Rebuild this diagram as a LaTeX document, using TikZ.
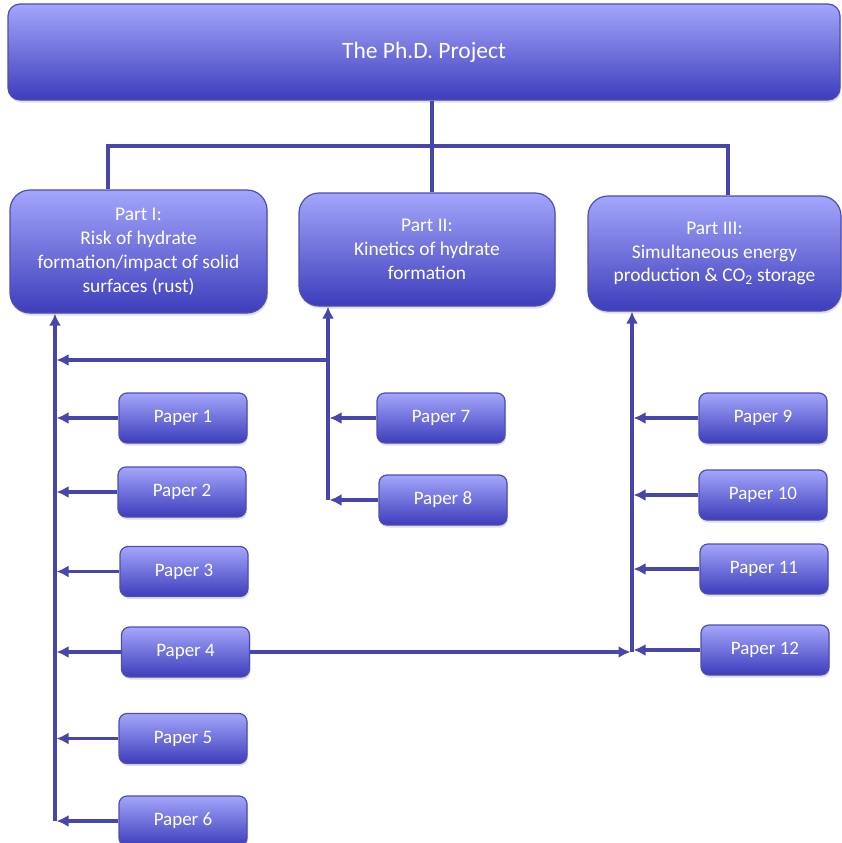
\documentclass[tikz,border=0pt]{standalone}
\usepackage{fontspec}
\setmainfont{Carlito}
\usetikzlibrary{arrows.meta,shadows,calc}
\definecolor{PhDTop}{HTML}{A3A6FB}
\definecolor{PhDBottom}{HTML}{3D3DBB}
\definecolor{PhDEdge}{HTML}{4E4EB2}
\definecolor{PhDLine}{HTML}{4747AB}
\tikzset{
    block/.style = {draw=PhDEdge, line width=1.2pt, rectangle,
        top color=PhDTop, bottom color=PhDBottom,
        text=white, align=center, inner sep=0pt,
        drop shadow={shadow xshift=1pt, shadow yshift=-2.5pt, opacity=0.25}},
    headbox/.style = {block, rounded corners=12pt, font=\fontsize{23.5}{28}\selectfont},
    partbox/.style = {block, rounded corners=20pt, font=\fontsize{19.4}{23.8}\selectfont},
    paperbox/.style = {block, rounded corners=8pt,
        minimum width=128pt, minimum height=50pt, font=\fontsize{19}{22}\selectfont},
    link/.style = {draw=PhDLine, line width=3.5pt},
    arrow/.style = {link, -{Latex[length=12pt,width=12pt]}},
    tobus/.style = {arrow, shorten >=1.5pt}
}
\begin{document}
\begin{tikzpicture}[x=1pt, y=-1pt]
    \useasboundingbox (0,0) rectangle (841,843);
    % project and the three parts
    \node [headbox, minimum width=832pt, minimum height=96pt] (project) at (424,52) {\raisebox{-3pt}{The Ph.D. Project}};
    \node [partbox, minimum width=257pt, minimum height=123pt] (part1) at (138.5,251.5)
        {Part I:\\Risk of hydrate\\formation/impact of solid\\surfaces (rust)};
    \node [partbox, minimum width=256pt, minimum height=113pt] (part2) at (427,249.5)
        {Part II:\\Kinetics of hydrate\\formation};
    \node [partbox, minimum width=253pt, minimum height=115pt] (part3) at (714.5,253.5)
        {Part III:\\Simultaneous energy\\production \& CO\textsubscript{2} storage};
    % papers
    \node [paperbox] (paper1) at (183,418) {Paper 1};
    \node [paperbox] (paper2) at (182,492) {Paper 2};
    \node [paperbox] (paper3) at (184,571.5) {Paper 3};
    \node [paperbox] (paper4) at (185.5,652) {Paper 4};
    \node [paperbox] (paper5) at (183,738.5) {Paper 5};
    \node [paperbox] (paper6) at (183,821) {Paper 6};
    \node [paperbox] (paper7) at (441,418) {Paper 7};
    \node [paperbox] (paper8) at (443,500) {Paper 8};
    \node [paperbox] (paper9) at (763,418) {Paper 9};
    \node [paperbox] (paper10) at (763,495) {Paper 10};
    \node [paperbox] (paper11) at (764,569) {Paper 11};
    \node [paperbox] (paper12) at (765,650) {Paper 12};
    % tree from the project to the parts
    \coordinate (branch) at (432,146);
    \draw [link] (project.south -| branch) -- (branch |- part2.north);
    \draw [link] ([xshift=-30.5pt]part1.north) |- (branch) -| ([xshift=13.5pt]part3.north);
    % buses from the papers to the parts
    \coordinate (bus1) at (55,821);
    \coordinate (bus2) at (328,500);
    \coordinate (bus3) at (632,652);
    \coordinate (join2) at (328,360);
    \draw [arrow] (bus1) -- (bus1 |- part1.south);
    \draw [arrow] (bus2) -- (bus2 |- part2.south);
    \draw [arrow] (bus3) -- (bus3 |- part3.south);
    \draw [tobus] (join2) -- (join2 -| bus1);
    \foreach \p in {1,...,6}
        \draw [tobus] (paper\p.west) -- (paper\p.west -| bus1);
    \foreach \p in {7,8}
        \draw [tobus] (paper\p.west) -- (paper\p.west -| bus2);
    \foreach \p in {9,...,12}
        \draw [tobus] (paper\p.west) -- (paper\p.west -| bus3);
    \draw [tobus] (paper4.east) -- (paper4.east -| bus3);
\end{tikzpicture}
\end{document}
